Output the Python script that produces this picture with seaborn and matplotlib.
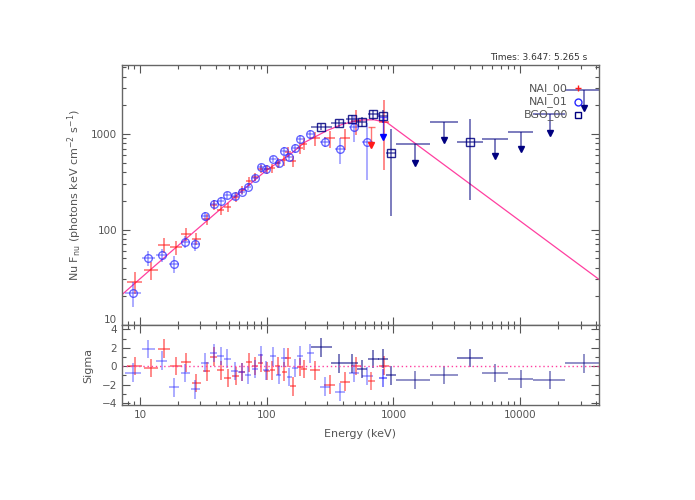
import matplotlib
matplotlib.use('Agg')
import matplotlib.pyplot as plt
import matplotlib.ticker as mticker
import matplotlib.transforms as mtrans
import seaborn as sns
import numpy as np

# ---- data ----
# NAI_00 (red crosses)
nai0_e = [9.1, 12.2, 15.5, 19.2, 23.0, 27.7, 33.5, 38.0, 43.2, 49.1, 56.9, 63.8, 72.1, 80.4,
          89.6, 100, 111, 122, 138, 147, 161, 182, 197, 240, 313, 412, 509, 838]
nai0_f = [28.4, 37.7, 68.4, 65.2, 89.8, 80.1, 128, 182, 160, 172, 220, 259, 320, 357,
          430, 426, 440, 500, 530, 650, 525, 710, 790, 900, 902, 902, 1380, 1345]
nai0_ferr = [0.25, 0.22, 0.18, 0.17, 0.15, 0.15, 0.13, 0.12, 0.12, 0.11, 0.11, 0.1, 0.1, 0.1,
             0.1, 0.1, 0.11, 0.11, 0.12, 0.12, 0.13, 0.13, 0.14, 0.16, 0.2, 0.25, 0.3, 0.69]
nai0_hw = [0.06, 0.055, 0.05, 0.045, 0.04, 0.035, 0.03, 0.03, 0.03, 0.028, 0.028, 0.025, 0.025, 0.025,
           0.022, 0.022, 0.022, 0.022, 0.022, 0.022, 0.022, 0.025, 0.025, 0.04, 0.04, 0.04, 0.04, 0.04]
nai0_res = [0.0, -0.17, 1.9, 0.0, 0.41, -1.8, -0.55, 1.04, -0.45, -1.3, -1.07, -0.65, 0.41, 0.0,
            0.35, -0.52, -0.45, 0.0, -0.58, 0.93, -2.18, -0.1, -0.27, -0.45, -2.0, -1.66, 0.0, 0.07]
nai0_ul = [671, 1175, 768, -1.59]  # energy, bar value, arrow tip, residual

# NAI_01 (blue circles)
nai1_e = [8.8, 11.6, 14.8, 18.4, 22.7, 27.2, 32.5, 38.0, 43.2, 48.9, 55.8, 63.4, 71.3, 80.4,
          89.6, 98.8, 111.6, 124, 136.5, 151, 168, 182.6, 221, 290, 376, 486, 624]
nai1_f = [21.8, 50.7, 53.7, 43.8, 74.5, 70, 138, 185, 200, 228, 223, 249, 281, 348,
          451, 426, 551, 493, 668, 578, 708, 887, 993, 824, 696, 1175, 824]
nai1_ferr = [0.3, 0.18, 0.15, 0.2, 0.14, 0.14, 0.1, 0.09, 0.09, 0.09, 0.09, 0.08, 0.08, 0.08,
             0.08, 0.08, 0.08, 0.09, 0.09, 0.1, 0.1, 0.1, 0.1, 0.12, 0.3, 0.3, 0.6]
nai1_hw = [0.06, 0.05, 0.045, 0.04, 0.035, 0.035, 0.03, 0.03, 0.025, 0.025, 0.025, 0.025, 0.025, 0.022,
           0.022, 0.022, 0.022, 0.022, 0.022, 0.022, 0.022, 0.025, 0.03, 0.04, 0.04, 0.04, 0.04]
nai1_res = [-0.7, 1.87, 0.6, -2.28, -0.72, -2.5, 0.4, 1.45, 1.1, 0.83, -0.52, -0.62, -0.96, -0.27,
            1.21, -0.45, 1.08, -0.97, 0.93, -1.14, -0.2, 1.14, 1.39, -2.2, -2.8, -0.72, -1.07]
nai1_ul = [830, 1500, 930, -1.3]

# BGO_00 (navy squares)
bgo_e = [270, 370, 471, 568, 696, 830, 960, 4027]
bgo_f = [1188, 1302, 1426, 1336, 1607, 1542, 628, 818]
bgo_ferr = [0.08, 0.08, 0.1, 0.12, 0.12, 0.15, 0.78, 0.75]
bgo_hw = [0.08, 0.06, 0.05, 0.04, 0.04, 0.04, 0.04, 0.1]
bgo_res = [2.04, 0.31, 0.31, -0.27, 0.76, 0.83, -1.0, 0.87]

# BGO_00 upper limits
ul_e = [1486, 2518, 6350, 10100, 17100, 31800]
ul_lo = [1040, 1940, 4980, 8050, 12600, 22700]
ul_hi = [1940, 3230, 8050, 12600, 22700, 44000]
ul_top = [780, 1345, 893, 1057, 1607, 2890]
ul_tip = [501, 865, 589, 702, 1016, 1858]
ul_res = [-1.48, -0.97, -0.72, -1.38, -1.48, 0.31]

# fitted model curve
model_e = [7.2, 10, 20, 40, 70, 100, 150, 200, 300, 400, 540, 700, 890, 42000]
model_f = [20.8, 30.5, 68, 150, 282, 420, 600, 820, 1090, 1270, 1400, 1410, 1318, 30]

RED = '#ff1a1a'
BLUE = '#2a2aff'
NAVY = '#000080'
PINK = '#ff3fa0'
GREY = '#555555'

sns.set_style('ticks')
plt.rcParams['font.family'] = ['DejaVu Sans']

fig = plt.figure(figsize=(6.95, 5), dpi=100)
ax1 = fig.add_axes([0.1755, 0.35, 0.6865, 0.52])
ax2 = fig.add_axes([0.1755, 0.19, 0.6865, 0.16])


def xerr_of(e, hw):
    e = np.array(e, dtype=float)
    hw = np.array(hw, dtype=float)
    return [e - e * 10 ** (-hw), e * 10 ** hw - e]


# model line
sns.lineplot(x=model_e, y=model_f, ax=ax1, color=PINK, linewidth=0.9, estimator=None, sort=True)

# detector points
sets = [(nai0_e, nai0_f, nai0_ferr, nai0_hw, nai0_res, RED, 0.65, None),
        (nai1_e, nai1_f, nai1_ferr, nai1_hw, nai1_res, BLUE, 0.5, 'o'),
        (bgo_e, bgo_f, bgo_ferr, bgo_hw, bgo_res, NAVY, 0.65, 's')]
for e, f, ferr, hw, res, col, alpha, mk in sets:
    f_arr = np.array(f, dtype=float)
    ax1.errorbar(e, f, xerr=xerr_of(e, hw), yerr=f_arr * np.array(ferr), fmt='none',
                 ecolor=col, elinewidth=1.1, capsize=0, alpha=alpha)
    if mk is not None:
        ax1.plot(e, f, mk, mfc='none', mec=col, ms=5.5, mew=1.0, alpha=min(alpha + 0.2, 1))
    ax2.errorbar(e, res, xerr=xerr_of(e, hw), yerr=1.0, fmt='none',
                 ecolor=col, elinewidth=1.1, capsize=0, alpha=alpha)

# NaI upper limits
for ul, col in [(nai0_ul, RED), (nai1_ul, '#0000ff')]:
    e, top, tip, res = ul
    ax1.hlines(top, e * 10 ** -0.03, e * 10 ** 0.03, color=col, lw=1.0, alpha=0.6)
    ax1.vlines(e, tip, top, color=col, lw=1.0, alpha=0.6)
    ax1.plot([e], [tip], 'v', color=col, ms=4.5)
    ax2.errorbar([e], [res], xerr=xerr_of([e], [0.03]), yerr=1.0, fmt='none',
                 ecolor=col, elinewidth=1.1, capsize=0, alpha=0.6)

# BGO upper limits
ax1.hlines(ul_top, ul_lo, ul_hi, color=NAVY, lw=1.1, alpha=0.65)
ax1.vlines(ul_e, ul_tip, ul_top, color=NAVY, lw=1.1, alpha=0.65)
ax1.plot(ul_e, ul_tip, 'v', color=NAVY, ms=4.5)
ul_e_arr = np.array(ul_e, dtype=float)
ax2.errorbar(ul_e, ul_res, xerr=[ul_e_arr - np.array(ul_lo), np.array(ul_hi) - ul_e_arr], yerr=1.0,
             fmt='none', ecolor=NAVY, elinewidth=1.1, capsize=0, alpha=0.55)

ax2.axhline(0, color=PINK, lw=1.0, ls=(0, (1, 2)))

# axes styling
for ax in (ax1, ax2):
    ax.set_xscale('log')
    ax.set_xlim(7.2, 42000)
    ax.tick_params(which='both', direction='in', top=True, right=True, colors=GREY,
                   labelsize=7.5, labelcolor=GREY, width=0.8)
    ax.tick_params(which='major', length=6)
    ax.tick_params(which='minor', length=3)
    for sp in ax.spines.values():
        sp.set_color('#666666')
        sp.set_linewidth(1.0)
    ax.xaxis.set_major_locator(mticker.FixedLocator([10, 100, 1000, 10000]))
    ax.xaxis.set_minor_locator(mticker.LogLocator(base=10, subs=np.arange(2, 10), numticks=20))
    ax.set_xlabel('')
    ax.set_ylabel('')

ax1.set_yscale('log')
ax1.set_ylim(10, 5280)
ax1.yaxis.set_major_locator(mticker.FixedLocator([10, 100, 1000]))
ax1.yaxis.set_minor_locator(mticker.LogLocator(base=10, subs=np.arange(2, 10), numticks=20))
ax1.yaxis.set_major_formatter(mticker.FuncFormatter(lambda v, p: f'{v:g}'))
ax1.yaxis.set_minor_formatter(mticker.NullFormatter())
ax1.xaxis.set_major_formatter(mticker.NullFormatter())
ax1.xaxis.set_minor_formatter(mticker.NullFormatter())

ax2.set_ylim(-4.2, 4.47)
ax2.yaxis.set_major_locator(mticker.MultipleLocator(2))
ax2.yaxis.set_minor_locator(mticker.MultipleLocator(1))
ax2.yaxis.set_major_formatter(mticker.FuncFormatter(lambda v, p: f'{v:g}'.replace('-', '\u2212')))
ax2.xaxis.set_major_formatter(mticker.FuncFormatter(lambda v, p: f'{v:g}'))
ax2.xaxis.set_minor_formatter(mticker.NullFormatter())

# legend drawn as text, IDL style
leg = [('NAI_00', '+', RED, 0.910), ('NAI_01', 'o', BLUE, 0.859), ('BGO_00', 's', NAVY, 0.808)]
for name, mk, col, yy in leg:
    ax1.text(0.935, yy, name, transform=ax1.transAxes, ha='right', va='center',
             fontsize=8, color=GREY)
    ax1.plot([0.956], [yy], mk, transform=ax1.transAxes, mfc='none', mec=col, color=col,
             ms=5, mew=1.0, clip_on=False)

# labels
fig.text(587 / 695, 1 - 58 / 500, 'Times: 3.647: 5.265 s', ha='right', va='center',
         fontsize=6.5, color='#333333')
fig.text(75 / 695, 1 - 195 / 500, r'Nu F$_{\rm nu}$ (photons keV cm$^{-2}$ s$^{-1}$)',
         rotation=90, ha='center', va='center', fontsize=8, color=GREY)
fig.text(88 / 695, 1 - 365 / 500, 'Sigma', rotation=90, ha='center', va='center',
         fontsize=8, color=GREY)
fig.text(360 / 695, 1 - 434 / 500, 'Energy (keV)', ha='center', va='center',
         fontsize=8, color=GREY)

# lift the lowest flux tick label a little, as in the reference
fig.canvas.draw()
for lab in ax1.get_yticklabels():
    if lab.get_text() == '10':
        lab.set_transform(lab.get_transform() + mtrans.ScaledTranslation(0, 4 / 72, fig.dpi_scale_trans))

fig.savefig('out.png', dpi=100, facecolor='white')
